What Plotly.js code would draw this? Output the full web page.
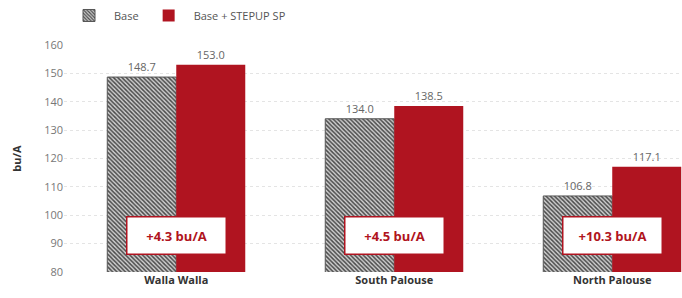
<!DOCTYPE html>
<html>
<head>
<meta charset="utf-8">
<script src="https://cdn.plot.ly/plotly-3.0.1.min.js"></script>
<style>html,body{margin:0;padding:0;background:#fff;}#chart{width:682px;height:298px;}</style>
</head>
<body>
<div id="chart"></div>
<script>
const categories = ["Walla Walla", "South Palouse", "North Palouse"];
const baseValues = [148.7, 134.0, 106.8];
const stepupValues = [153.0, 138.5, 117.1];
const seriesNames = ["Base", "Base + STEPUP SP"];
const yTicks = [80, 90, 100, 110, 120, 130, 140, 150, 160];

const FONT = "Open Sans, Noto Sans, sans-serif";
const RED = "#b01420";

const traces = [
  {
    type: "bar", name: seriesNames[0], x: categories, y: baseValues,
    text: baseValues.map(v => v.toFixed(1)), textposition: "outside",
    textfont: {size: 11, color: "#666", family: FONT},
    cliponaxis: false,
    marker: {color: "#999", line: {color: "#555", width: 1},
      pattern: {shape: "\\", fgcolor: "#4a4a4a", bgcolor: "#d0d0d0", size: 3, solidity: 0.5}}
  },
  {
    type: "bar", name: seriesNames[1], x: categories, y: stepupValues,
    text: stepupValues.map(v => v.toFixed(1)), textposition: "outside",
    textfont: {size: 11, color: "#666", family: FONT},
    cliponaxis: false,
    marker: {color: RED, line: {width: 0}}
  }
];

const annotations = categories.map((c, i) => ({
  x: c, y: 93, xref: "x", yref: "y",
  text: "<b>+" + (stepupValues[i] - baseValues[i]).toFixed(1) + " bu/A</b>",
  showarrow: false, font: {size: 13, color: RED, family: FONT},
  bgcolor: "#ffffff", bordercolor: RED, borderwidth: 1.5,
  width: 96, height: 34
}));

const layout = {
  width: 682, height: 298,
  margin: {l: 64, r: 0, t: 45, b: 26, autoexpand: false},
  paper_bgcolor: "#fff", plot_bgcolor: "#fff",
  font: {family: FONT, color: "#555"},
  barmode: "group", bargap: 0.367, bargroupgap: 0,
  showlegend: true,
  legend: {orientation: "h", x: 0.0, y: 1.13, xanchor: "left", yanchor: "middle",
    font: {size: 11, color: "#555", family: FONT}, itemwidth: 40, tracegroupgap: 0},
  xaxis: {type: "category", range: [-0.515, 2.32], showgrid: false, zeroline: false,
    showline: false, ticks: "", tickfont: {size: 11, color: "#333", family: FONT, weight: "bold"}},
  yaxis: {range: [80, 160], tickvals: yTicks, showgrid: true, gridcolor: "#e4e4e4", griddash: "dot",
    zeroline: false, showline: false, ticks: "", tickfont: {size: 11, color: "#777"},
    title: {text: "<b>bu/A</b>", font: {size: 11, color: "#333"}, standoff: 20}},
  annotations: annotations
};

Plotly.newPlot("chart", traces, layout, {displayModeBar: false, staticPlot: true});
</script>
</body>
</html>
